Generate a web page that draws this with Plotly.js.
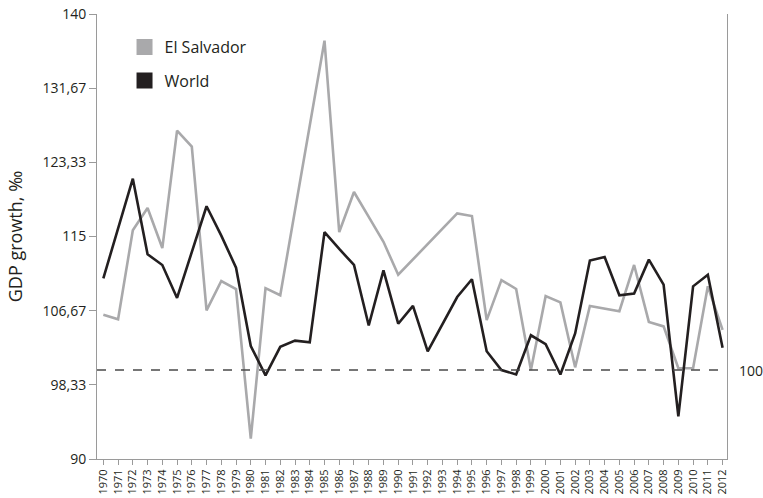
<!DOCTYPE html>
<html>
<head>
<meta charset="utf-8">
<script src="https://cdn.plot.ly/plotly-3.0.1.min.js"></script>
<style>html,body{margin:0;padding:0;background:#fff;}#chart{width:763px;height:498px;}</style>
</head>
<body>
<div id="chart"></div>
<script>
const years = [1970,1971,1972,1973,1974,1975,1976,1977,1978,1979,1980,1981,1982,1983,1984,1985,1986,1987,1988,1989,1990,1991,1992,1993,1994,1995,1996,1997,1998,1999,2000,2001,2002,2003,2004,2005,2006,2007,2008,2009,2010,2011,2012];
const elSalvador = [106.2,105.7,115.7,118.2,113.7,126.9,125.1,106.7,110.0,109.1,92.3,109.2,108.4,117.9,127.3,137.0,115.5,120.0,117.2,114.4,110.7,112.4,114.1,115.9,117.6,117.3,105.6,110.1,109.1,100.0,108.3,107.6,100.3,107.2,106.9,106.6,111.8,105.4,104.9,100.2,100.2,109.4,104.5];
const world = [110.3,115.9,121.5,113.0,111.8,108.1,113.3,118.4,115.1,111.5,102.7,99.4,102.6,103.3,103.1,115.5,113.6,111.8,105.0,111.2,105.2,107.2,102.1,105.2,108.2,110.2,102.1,100.0,99.5,103.9,102.9,99.5,104.1,112.3,112.7,108.4,108.6,112.4,109.6,94.8,109.4,110.7,102.5];
const yTickVals = [90, 98.33, 106.67, 115, 123.33, 131.67, 140];
const yTickText = ["90", "98,33", "106,67", "115", "123,33", "131,67", "140"];
const seriesNames = ["El Salvador", "World"];
const baseline = 100;
const baselineLabel = "100";

const grey = "#a9a9ab";
const dark = "#231f20";
const font = "Open Sans, DejaVu Sans, sans-serif";

const traces = [
  {x: years, y: elSalvador, type: "scatter", mode: "lines", line: {color: grey, width: 2.6}, showlegend: false, hoverinfo: "skip"},
  {x: years, y: world, type: "scatter", mode: "lines", line: {color: dark, width: 2.6}, showlegend: false, hoverinfo: "skip"},
  {x: [null], y: [null], type: "scatter", mode: "markers", name: seriesNames[0], marker: {symbol: "square", size: 17, color: grey}, legend: "legend"},
  {x: [null], y: [null], type: "scatter", mode: "markers", name: seriesNames[1], marker: {symbol: "square", size: 17, color: dark}, legend: "legend2"}
];

const layout = {
  width: 763, height: 498,
  margin: {l: 97, r: 36, t: 14, b: 39},
  paper_bgcolor: "#fff", plot_bgcolor: "#fff",
  font: {family: font, color: dark},
  xaxis: {
    range: [1969.57, 2012.3],
    tickmode: "linear", tick0: 1970, dtick: 1,
    tickangle: -90,
    tickfont: {size: 11, color: dark},
    ticks: "outside", ticklen: 5, tickcolor: "#9a9a9a", tickwidth: 1,
    showline: true, linecolor: "#9a9a9a", linewidth: 1,
    showgrid: false, zeroline: false, fixedrange: true
  },
  yaxis: {
    range: [90, 140],
    tickmode: "array", tickvals: yTickVals, ticktext: yTickText,
    tickfont: {size: 14, color: dark},
    ticks: "outside", ticklen: 7, tickcolor: "#9a9a9a", tickwidth: 1,
    showline: true, mirror: true, linecolor: "#9a9a9a", linewidth: 1,
    showgrid: false, zeroline: false, fixedrange: true,
    title: {text: "GDP growth, ‰", font: {size: 18, color: dark}, standoff: 15}
  },
  shapes: [
    {type: "line", xref: "paper", x0: 0, x1: 1, yref: "y", y0: baseline, y1: baseline,
     line: {color: "#4a4a4a", width: 1.3, dash: "dash"}}
  ],
  annotations: [
    {xref: "paper", x: 1, xanchor: "left", xshift: 10, yref: "y", y: baseline, yanchor: "middle",
     text: baselineLabel, showarrow: false, font: {size: 14, color: dark}}
  ],
  legend: {x: 0.0437, xanchor: "left", y: 0.9258, yanchor: "middle", bgcolor: "rgba(0,0,0,0)", font: {size: 16, color: dark}, borderwidth: 0},
  legend2: {x: 0.0437, xanchor: "left", y: 0.8506, yanchor: "middle", bgcolor: "rgba(0,0,0,0)", font: {size: 16, color: dark}, borderwidth: 0},
  showlegend: true
};

Plotly.newPlot("chart", traces, layout, {staticPlot: true, displayModeBar: false});
</script>
</body>
</html>
